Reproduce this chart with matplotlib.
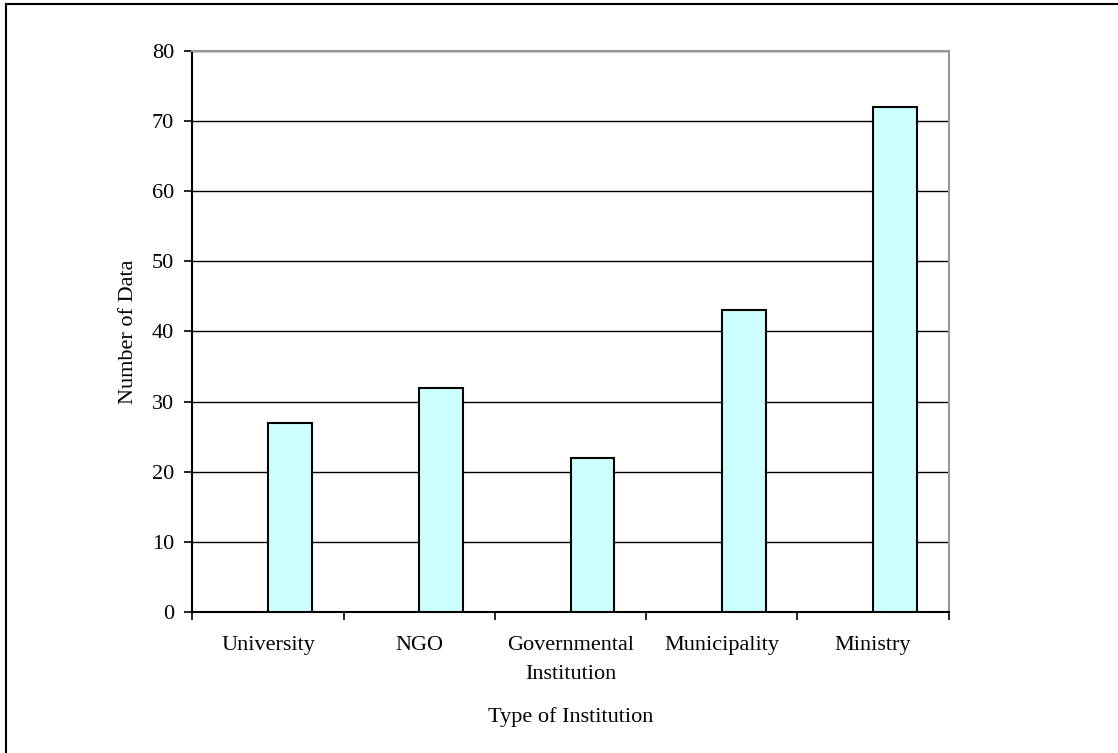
import numpy as np
import matplotlib.pyplot as plt
from matplotlib.lines import Line2D

# data
categories = ["University", "NGO", "Governmental\nInstitution", "Municipality", "Ministry"]
counts = [27, 32, 22, 43, 72]
y_ticks = [0, 10, 20, 30, 40, 50, 60, 70, 80]

plt.rcParams['font.family'] = ['Liberation Serif', 'DejaVu Serif']

fig = plt.figure(figsize=(11.18, 7.53), dpi=100)
ax = fig.add_axes([0.172, 0.1869, 0.8486 - 0.172, 0.9327 - 0.1869])

x = np.arange(len(categories))
ax.bar(x, counts, width=0.29, align='edge', color='#CCFFFF',
       edgecolor='black', linewidth=1.5, zorder=3)

ax.set_xlim(-0.5, len(categories) - 0.5)
ax.set_ylim(0, 80)
ax.set_yticks(y_ticks)
ax.yaxis.grid(True, color='black', linewidth=1.0, zorder=0)
ax.set_axisbelow(True)

# category labels centred, tick marks between categories
ax.set_xticks(x)
ax.set_xticklabels(categories, fontsize=16, linespacing=1.7)
ax.tick_params(axis='x', length=0, pad=17)
ax.set_xticks(np.arange(-0.5, len(categories)), minor=True)
ax.tick_params(axis='x', which='minor', length=6, width=1.2, direction='out')
ax.tick_params(axis='y', length=6, width=1.2, direction='out', labelsize=16, pad=7)

for s in ['top', 'right']:
    ax.spines[s].set_color('#999999')
    ax.spines[s].set_linewidth(1.5)
for s in ['left', 'bottom']:
    ax.spines[s].set_color('black')
    ax.spines[s].set_linewidth(1.5)

ax.set_xlabel('Type of Institution', fontsize=16, labelpad=17)
ax.set_ylabel('Number of Data', fontsize=16, labelpad=10)

# outer chart border (only left and top are visible)
fig.add_artist(Line2D([6 / 1118, 6 / 1118], [0, 1 - 4 / 753], color='black', linewidth=1.5))
fig.add_artist(Line2D([6 / 1118, 1], [1 - 4 / 753, 1 - 4 / 753], color='black', linewidth=1.5))

fig.savefig('out.png', dpi=100)
